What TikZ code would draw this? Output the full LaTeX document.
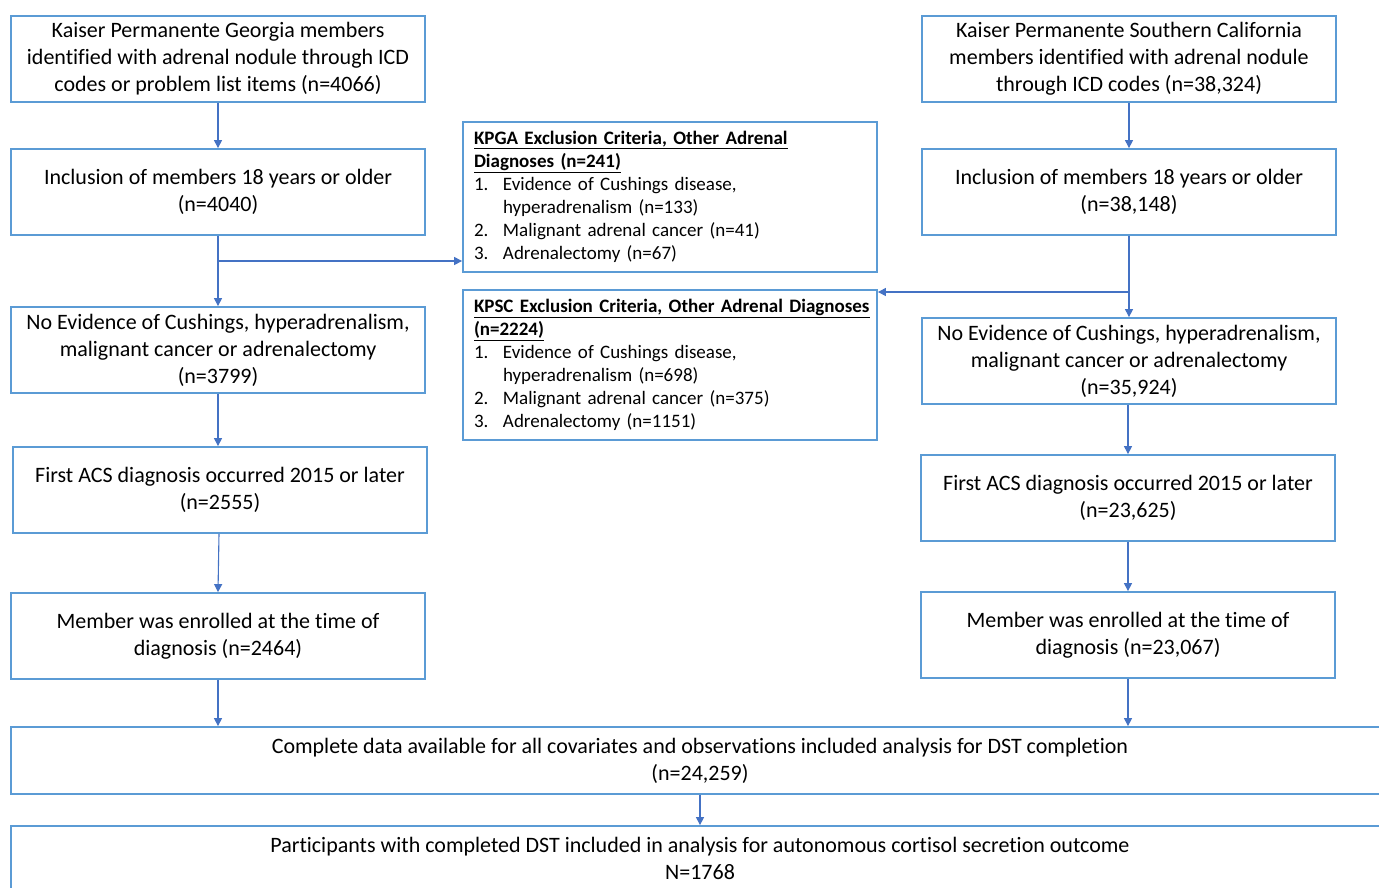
\documentclass[tikz,border=0pt]{standalone}
\usepackage{fontspec}
\setmainfont{Carlito}[Ligatures=CommonOff]
\usetikzlibrary{arrows.meta}
\definecolor{boxblue}{RGB}{91,155,213}
\definecolor{arrblue}{RGB}{68,114,196}
\newcommand\numbox[1]{\makebox[29pt][l]{#1}}
\newcommand\hdul[1]{\underline{\textbf{#1}}}
\begin{document}
\begin{tikzpicture}[x=1pt,y=-1pt,
  box/.style={draw=boxblue, line width=1.8pt, minimum width=414pt, minimum height=86pt,
    align=center, inner sep=0pt, font=\fontsize{22}{27}\selectfont},
  ebox/.style={draw=boxblue, line width=1.8pt, minimum width=414pt, minimum height=150pt,
    text width=392pt, align=left, inner xsep=11pt, inner ysep=0pt, font=\fontsize{19}{23}\selectfont},
  wbox/.style={draw=boxblue, line width=1.8pt, minimum width=1378pt,
    align=center, inner sep=0pt, font=\fontsize{22}{27}\selectfont},
  arr/.style={draw=arrblue, line width=1.1pt, -{Triangle[length=8pt,width=8pt]}}]
\useasboundingbox (0,0) rectangle (1379,887);
\clip (0,0) rectangle (1379,887);
\fill[white] (0,0) rectangle (1379,887);

% left column
\node[box] (L1) at (218,59) {Kaiser Permanente Georgia members\\identified with adrenal nodule through ICD\\codes or problem list items (n=4066)};
\node[box] (L2) at (218,192) {Inclusion of members 18 years or older\\(n=4040)};
\node[box] (L3) at (218,350) {No Evidence of Cushings, hyperadrenalism,\\malignant cancer or adrenalectomy\\(n=3799)};
\node[box] (L4) at (220,490) {First ACS diagnosis occurred 2015 or later\\(n=2555)};
\node[box] (L5) at (218,636) {Member was enrolled at the time of\\diagnosis (n=2464)};

% right column
\node[box] (R1) at (1129,59) {Kaiser Permanente Southern California\\members identified with adrenal nodule\\through ICD codes (n=38,324)};
\node[box] (R2) at (1129,192) {Inclusion of members 18 years or older\\(n=38,148)};
\node[box] (R3) at (1129,361) {No Evidence of Cushings, hyperadrenalism,\\malignant cancer or adrenalectomy\\(n=35,924)};
\node[box] (R4) at (1128,498) {First ACS diagnosis occurred 2015 or later\\(n=23,625)};
\node[box] (R5) at (1128,635) {Member was enrolled at the time of\\diagnosis (n=23,067)};

% exclusion boxes
\node[ebox] (E1) at (670,197) {\hdul{KPGA Exclusion Criteria, Other Adrenal}\\
\hdul{Diagnoses (n=241)}\\
\numbox{1.}Evidence of Cushings disease,\\
\hspace*{29pt}hyperadrenalism (n=133)\\
\numbox{2.}Malignant adrenal cancer (n=41)\\
\numbox{3.}Adrenalectomy (n=67)};
\node[ebox] (E2) at (670,365) {\hdul{KPSC Exclusion Criteria, Other Adrenal Diagnoses}\\
\hdul{(n=2224)}\\
\numbox{1.}Evidence of Cushings disease,\\
\hspace*{29pt}hyperadrenalism (n=698)\\
\numbox{2.}Malignant adrenal cancer (n=375)\\
\numbox{3.}Adrenalectomy (n=1151)};

% bottom wide boxes
\node[wbox, minimum height=67pt] (B1) at (700,760.5) {Complete data available for all covariates and observations included analysis for DST completion\\(n=24,259)};
\node[wbox, minimum height=64pt] (B2) at (700,858) {Participants with completed DST included in analysis for autonomous cortisol secretion outcome\\N=1768};

% junctions
\coordinate (jL) at (218,261);
\coordinate (jR) at (1129,292);

% connectors left
\draw[arr] (L1.south) -- (L2.north);
\draw[arr] (L2.south) -- (L3.north);
\draw[arr] (jL) -- (jL -| E1.west);
\draw[arr] (L3.south) -- (L3.south |- L4.north);
\draw[arr] ([xshift=-1pt]L4.south) -- (L5.north);
\draw[arr] (L5.south) -- (L5.south |- B1.north);

% connectors right
\draw[arr] (R1.south) -- (R2.north);
\draw[arr] (R2.south) -- (R3.north);
\draw[arr] (jR) -- (jR -| E2.east);
\draw[arr] ([xshift=-1pt]R3.south) -- (R4.north);
\draw[arr] (R4.south) -- (R5.north);
\draw[arr] (R5.south) -- (R5.south |- B1.north);

% bottom
\draw[arr] (B1.south) -- (B2.north);
\end{tikzpicture}
\end{document}
